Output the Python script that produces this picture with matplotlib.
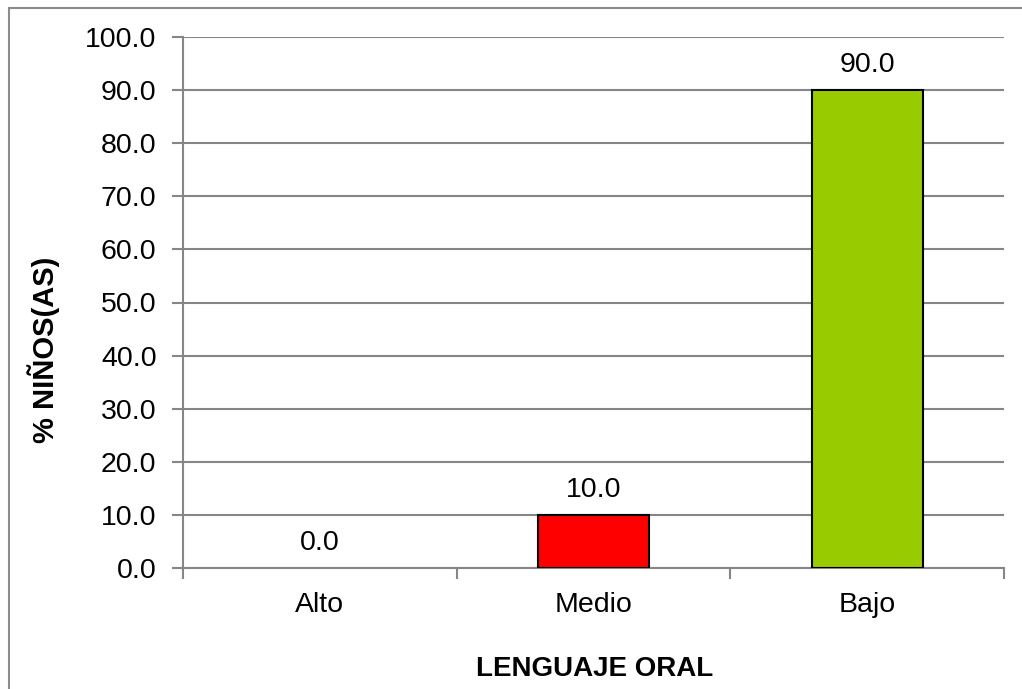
import matplotlib.pyplot as plt
from matplotlib.patches import Rectangle
from matplotlib.ticker import FixedLocator, MultipleLocator

plt.rcParams['font.family'] = ['Liberation Sans', 'DejaVu Sans']

categories = ["Alto", "Medio", "Bajo"]
values = [0.0, 10.0, 90.0]
colors = ["#4F81BD", "#FF0000", "#99CC00"]

fig = plt.figure(figsize=(10.22, 6.89), dpi=100)
ax = fig.add_axes([183 / 1022, 1 - 568 / 689, (1004 - 183) / 1022, (568 - 37) / 689])

# outer chart-area border (goes off the right / bottom edge)
fig.patches.append(Rectangle((9 / 1022, -0.1), 1.2, 1 - 8 / 689 + 0.1,
                             transform=fig.transFigure, fill=False,
                             edgecolor="#8c8c8c", linewidth=1.5))

x = list(range(len(categories)))
edge_w = [1.5 if v > 0 else 0 for v in values]
ax.bar(x, values, width=0.405, color=colors, edgecolor="black",
       linewidth=edge_w, zorder=3)
for xi, v in zip(x, values):
    ax.annotate(f"{v:.1f}", (xi, v), xytext=(0, 13), textcoords="offset points",
                ha="center", va="baseline", fontsize=20.5)

ax.set_xlim(-0.5, len(categories) - 0.5)
ax.set_ylim(0, 100)
ax.yaxis.set_major_locator(MultipleLocator(10))
ax.set_yticklabels([f"{t:.1f}" for t in ax.get_yticks()])
ax.set_xticks(x)
ax.set_xticklabels(categories)
ax.xaxis.set_minor_locator(FixedLocator([i - 0.5 for i in range(len(categories) + 1)]))

ax.grid(axis="y", color="#868686", linewidth=1.5, zorder=0)
ax.tick_params(axis="y", which="major", length=8, width=1.5, color="#868686",
               labelsize=20.5, pad=11)
ax.tick_params(axis="x", which="major", length=0, labelsize=20.5, pad=17)
ax.tick_params(axis="x", which="minor", length=8, width=1.5, color="#868686")

for side in ["top", "right"]:
    ax.spines[side].set_visible(False)
for side in ["left", "bottom"]:
    ax.spines[side].set_color("#868686")
    ax.spines[side].set_linewidth(1.5)

ax.set_ylabel("% NIÑOS(AS)", fontsize=21, fontweight="bold")
ax.set_xlabel("LENGUAJE ORAL", fontsize=20, fontweight="bold")
ax.yaxis.set_label_coords((44 - 183) / 821, (568 - 350) / 531)
ax.yaxis.label.set_va("center")
ax.xaxis.set_label_coords((595 - 183) / 821, (568 - 669) / 531)
ax.xaxis.label.set_va("center")

fig.savefig("out.png", dpi=100)
